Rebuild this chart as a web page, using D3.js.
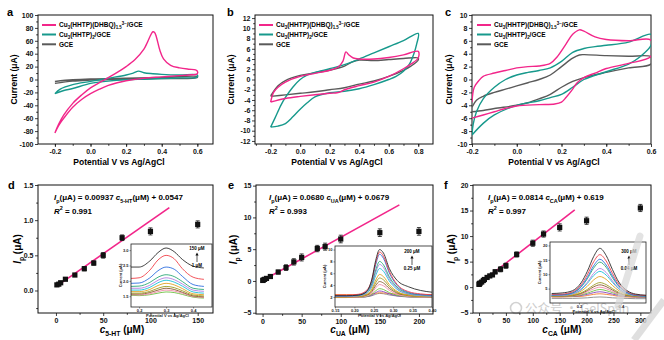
<!DOCTYPE html>
<html>
<head>
<meta charset="utf-8">
<script src="https://cdn.jsdelivr.net/npm/d3@7"></script>
<style>
  body { margin: 0; background: #fff; }
  svg { font-family: "Liberation Sans", Arial, sans-serif; font-weight: bold; }
</style>
</head>
<body>
<svg id="fig" width="664" height="340"></svg>
<script>
////////////////////////////////////////////////////////////
//////////////////////// Data //////////////////////////////
////////////////////////////////////////////////////////////

//CV loops, [potential V, current µA], forward scan then reverse
var cvA_dhbq = [[-0.2,-83],[-0.18,-70],[-0.15,-55],[-0.1,-37],[-0.05,-24],[0,-13],[0.05,-5],[0.1,3],[0.15,11],[0.2,20],[0.25,31],[0.3,47],[0.32,58],[0.34,70],[0.35,74],[0.36,73],[0.37,66],[0.39,45],[0.41,32],[0.45,22],[0.5,18],[0.55,16],[0.59,15],[0.6,13],[0.6,9],[0.55,7],[0.5,6],[0.4,4],[0.3,2],[0.2,-2],[0.15,-5],[0.1,-9],[0.05,-15],[0,-22],[-0.05,-31],[-0.1,-43],[-0.15,-60],[-0.18,-72],[-0.2,-83]];
var cvA_hhtp = [[-0.2,-22],[-0.17,-15],[-0.1,-8],[0,-3],[0.1,2],[0.2,7],[0.24,10],[0.27,13],[0.3,10.5],[0.35,9],[0.4,8],[0.5,7],[0.6,7],[0.6,4],[0.5,2.5],[0.4,1.5],[0.3,0.5],[0.2,-0.5],[0.1,-2.5],[0,-6],[-0.1,-14],[-0.15,-17],[-0.2,-22]];
var cvA_gce = [[-0.2,-3],[-0.1,-0.5],[0,0.8],[0.2,2],[0.4,3],[0.6,4.5],[0.6,3],[0.4,1.5],[0.2,0.5],[0,-1],[-0.1,-2.5],[-0.2,-6]];

var cvB_dhbq = [[-0.2,-4.4],[-0.18,-2.5],[-0.15,-1.5],[-0.1,-0.5],[0,0.6],[0.1,1.2],[0.2,1.8],[0.26,2.5],[0.29,3.6],[0.31,5.4],[0.33,4.8],[0.36,4.2],[0.4,4.0],[0.5,4.0],[0.6,4.3],[0.7,4.8],[0.8,5.5],[0.8,4.2],[0.75,3.0],[0.7,2.1],[0.6,0.6],[0.5,-0.5],[0.4,-1.2],[0.3,-2.0],[0.28,-2.3],[0.25,-2.6],[0.2,-2.7],[0,-3.3],[-0.1,-3.7],[-0.2,-4.4]];
var cvB_hhtp = [[-0.2,-9.3],[-0.17,-7.5],[-0.13,-5],[-0.1,-3.5],[-0.05,-1.5],[0,0],[0.05,0.9],[0.1,1.4],[0.2,2.1],[0.3,2.9],[0.4,4.0],[0.5,5.2],[0.6,6.4],[0.7,7.6],[0.8,9.0],[0.79,7],[0.77,5],[0.74,3],[0.7,1.6],[0.65,0.6],[0.6,0],[0.5,-1.0],[0.4,-1.8],[0.3,-2.3],[0.2,-2.6],[0.1,-3.4],[0.05,-4.5],[0,-5.8],[-0.05,-7.3],[-0.1,-8.6],[-0.15,-9.1],[-0.2,-9.3]];
var cvB_gce = [[-0.2,-3.2],[-0.15,-1.2],[-0.1,-0.2],[0,0.8],[0.1,1.3],[0.2,1.8],[0.3,2.6],[0.35,3.4],[0.4,3.8],[0.5,3.7],[0.6,3.9],[0.7,4.1],[0.8,4.2],[0.8,3.8],[0.75,2.6],[0.7,1.8],[0.6,0.6],[0.5,-0.3],[0.4,-0.9],[0.3,-1.6],[0.2,-2.0],[0.1,-2.4],[0,-2.7],[-0.1,-3.0],[-0.2,-3.3]];

var cvC_dhbq = [[-0.2,-3.5],[-0.19,-1.2],[-0.17,-0.2],[-0.15,0.5],[-0.1,1.0],[-0.05,1.4],[0,1.8],[0.05,2.0],[0.1,2.1],[0.15,2.5],[0.18,3.5],[0.22,5.5],[0.25,7.0],[0.28,7.7],[0.3,7.5],[0.35,6.6],[0.4,6.2],[0.5,6.0],[0.6,6.1],[0.6,3.6],[0.5,2.5],[0.4,1.7],[0.35,1.0],[0.3,0.3],[0.27,-0.5],[0.25,-1.5],[0.22,-2.8],[0.2,-3.5],[0.17,-3.8],[0.1,-3.9],[0,-4.1],[-0.05,-4.5],[-0.1,-5.0],[-0.15,-5.5],[-0.2,-6.0]];
var cvC_hhtp = [[-0.2,-8.6],[-0.195,-7],[-0.18,-5],[-0.15,-3],[-0.1,-1.2],[-0.05,0],[0,0.7],[0.05,1.1],[0.1,1.4],[0.15,1.8],[0.2,2.8],[0.25,4.2],[0.3,4.8],[0.35,5.1],[0.4,5.3],[0.5,5.8],[0.6,7.0],[0.6,5.3],[0.55,3.5],[0.5,2.4],[0.4,1.2],[0.3,0],[0.25,-1.2],[0.2,-2.3],[0.15,-2.8],[0.1,-3.3],[0,-4.0],[-0.1,-5.5],[-0.15,-6.8],[-0.2,-8.6]];
var cvC_gce = [[-0.2,-4.3],[-0.18,-3.2],[-0.15,-2.6],[-0.1,-2.0],[-0.05,-1.5],[0,-1.0],[0.05,-0.5],[0.1,0],[0.15,0.7],[0.2,2.0],[0.25,3.3],[0.28,3.8],[0.3,3.85],[0.4,3.7],[0.5,3.6],[0.6,3.5],[0.6,2.4],[0.5,1.8],[0.4,1.1],[0.3,0.3],[0.25,-0.3],[0.2,-1.2],[0.15,-2.3],[0.1,-3.0],[0.05,-3.6],[0,-4.0],[-0.1,-4.5],[-0.15,-4.8],[-0.2,-5.0]];

//Calibration points (µM, µA, error)
var conc5HT = [1, 3, 5, 10, 20, 30, 40, 50, 70, 100, 150];
var ip5HT   = [0.08, 0.09, 0.11, 0.16, 0.22, 0.31, 0.39, 0.50, 0.75, 0.84, 0.94];
var err5HT  = [0.02, 0.02, 0.02, 0.02, 0.02, 0.03, 0.03, 0.04, 0.04, 0.05, 0.05];

var concUA = [0.25, 1, 2.5, 5, 10, 20, 30, 40, 50, 70, 80, 100, 150, 200];
var ipUA   = [0.08, 0.15, 0.25, 0.4, 0.7, 1.4, 2.1, 3.0, 3.7, 5.1, 5.4, 6.6, 7.6, 7.8];
var errUA  = [0.2, 0.2, 0.2, 0.25, 0.3, 0.3, 0.45, 0.5, 0.55, 0.5, 0.55, 0.6, 0.6, 0.6];

var concCA = [0.04, 0.5, 1, 2, 5, 8, 10, 15, 20, 25, 30, 40, 50, 70, 100, 120, 150, 200, 300];
var ipCA   = [0.55, 0.6, 0.7, 0.8, 1.0, 1.3, 1.5, 1.9, 2.2, 2.4, 3.0, 3.5, 4.2, 6.4, 8.6, 10.4, 11.7, 13.0, 15.5];
var errCA  = [0.2, 0.2, 0.2, 0.2, 0.25, 0.25, 0.3, 0.3, 0.3, 0.3, 0.4, 0.5, 0.5, 0.5, 0.6, 0.6, 0.7, 0.7, 0.7];

//Linear fits as printed on the chart: slope, intercept, fitted range
var fit5HT = [0.00937, 0.0547, 0, 120];
var fitUA  = [0.0680, 0.0679, 0, 175];
var fitCA  = [0.0814, 0.619, 0, 178];

//DPV insets: shared potentials and one current array per concentration (high to low)
var dpvColors = ["#2b2b2b","#f0424a","#2f6fe0","#2aa876","#b07de0","#19c0d8","#e0a020","#9c9c22","#8a5a30","#f08aa8","#6cc040","#8844c0","#f07a30","#888888"];

var dpvD_V = [0.17, 0.2, 0.24, 0.27, 0.3, 0.33, 0.36, 0.4, 0.44];
var dpvD_I = [
  [2.45,2.45,2.65,2.92,3.07,2.95,2.70,2.48,2.42],
  [2.08,2.10,2.35,2.68,2.83,2.72,2.40,2.12,2.05],
  [1.92,1.93,2.10,2.33,2.45,2.38,2.15,1.88,1.82],
  [1.82,1.83,1.95,2.12,2.20,2.14,1.98,1.76,1.72],
  [1.76,1.76,1.86,2.02,2.10,2.04,1.90,1.70,1.66],
  [1.70,1.70,1.79,1.94,2.02,1.96,1.83,1.64,1.60],
  [1.65,1.65,1.72,1.85,1.92,1.87,1.75,1.58,1.55],
  [1.60,1.60,1.66,1.76,1.82,1.78,1.68,1.54,1.51],
  [1.57,1.57,1.62,1.70,1.76,1.72,1.63,1.51,1.48],
  [1.55,1.54,1.58,1.65,1.70,1.67,1.60,1.49,1.46],
  [1.53,1.52,1.55,1.60,1.64,1.62,1.56,1.47,1.44]
];

var dpvE_V = [0.15, 0.18, 0.21, 0.23, 0.245, 0.255, 0.265, 0.275, 0.29, 0.31, 0.34, 0.37, 0.4];
var dpvE_I = [
  [2.2,2.2,2.3,2.8,5.0,8.2,10.0,9.4,6.8,4.8,3.7,3.1,2.8],
  [2.3,2.3,2.45,3.03,4.86,7.78,9.6,8.87,6.32,4.13,2.88,2.52,2.37],
  [2.2,2.2,2.34,2.9,4.65,7.45,9.2,8.5,6.05,3.95,2.76,2.41,2.27],
  [2.2,2.2,2.32,2.78,4.23,6.55,8.0,7.42,5.39,3.65,2.66,2.37,2.26],
  [2.1,2.1,2.21,2.64,3.99,6.15,7.5,6.96,5.07,3.45,2.53,2.26,2.15],
  [2.1,2.1,2.19,2.57,3.75,5.63,6.8,6.33,4.69,3.28,2.48,2.24,2.15],
  [2.0,2.0,2.08,2.38,3.33,4.85,5.8,5.42,4.09,2.95,2.3,2.11,2.04],
  [2.0,2.0,2.06,2.32,3.12,4.4,5.2,4.88,3.76,2.8,2.26,2.1,2.03],
  [2.0,2.0,2.05,2.26,2.91,3.95,4.6,4.34,3.43,2.65,2.21,2.08,2.03],
  [1.9,1.9,1.94,2.12,2.67,3.55,4.1,3.88,3.11,2.45,2.08,1.97,1.92],
  [1.9,1.9,1.93,2.05,2.43,3.03,3.4,3.25,2.73,2.28,2.02,1.95,1.92],
  [1.9,1.9,1.92,2.01,2.29,2.73,3.0,2.89,2.51,2.18,1.99,1.93,1.91],
  [2.4,2.4,2.4,2.43,2.5,2.62,2.7,2.67,2.57,2.47,2.42,2.4,2.4],
  [2.0,2.0,2.01,2.06,2.21,2.45,2.6,2.54,2.33,2.15,2.05,2.02,2.01]
];

var dpvF_V = [0.07, 0.12, 0.17, 0.21, 0.24, 0.27, 0.3, 0.33, 0.36, 0.39, 0.43, 0.47, 0.52];
var dpvF_I = [
  [3.3,3.5,4.3,7.0,11.0,16.1,19.0,16.5,11.6,7.3,4.3,3.1,2.7],
  [3.0,3.1,3.9,6.3,9.8,14.3,16.8,14.6,10.3,6.6,4.0,2.9,2.6],
  [2.8,2.9,3.6,5.8,8.9,12.9,15.2,13.2,9.4,6.0,3.7,2.7,2.4],
  [2.8,2.9,3.5,5.5,8.4,12.1,14.2,12.4,8.8,5.8,3.6,2.7,2.4],
  [2.7,2.7,3.2,4.9,7.2,10.3,12.0,10.6,7.7,5.1,3.3,2.6,2.4],
  [2.6,2.7,3.2,4.6,6.8,9.5,11.0,9.7,7.2,4.9,3.2,2.6,2.4],
  [2.5,2.6,2.9,4.1,5.8,8.0,9.2,8.2,6.1,4.3,3.0,2.5,2.3],
  [2.4,2.4,2.7,3.5,4.7,6.2,7.1,6.4,5.0,3.7,2.7,2.4,2.2],
  [2.4,2.4,2.6,3.3,4.3,5.6,6.3,5.7,4.5,3.4,2.6,2.3,2.2],
  [2.3,2.3,2.5,3.0,3.9,4.9,5.5,5.0,4.0,3.1,2.5,2.2,2.1],
  [2.3,2.3,2.4,2.8,3.4,4.2,4.7,4.3,3.6,2.9,2.4,2.2,2.1],
  [2.2,2.2,2.3,2.6,3.0,3.6,3.9,3.6,3.1,2.6,2.3,2.1,2.0],
  [2.1,2.1,2.2,2.3,2.6,3.0,3.2,3.0,2.7,2.3,2.1,2.0,1.9],
  [1.6,1.6,1.6,1.7,1.8,2.0,2.1,2.0,1.8,1.7,1.6,1.5,1.5]
];

var PINK = "#f2268a", TEAL = "#17998c", GREY = "#5a5a5a";

////////////////////////////////////////////////////////////
/////////////////////// Helpers ////////////////////////////
////////////////////////////////////////////////////////////

var svg = d3.select("#fig");
svg.append("rect").attr("width", 664).attr("height", 340).attr("fill", "#fff");

//Watermark sitting behind the charts
svg.append("text")
  .attr("x", 525).attr("y", 313)
  .attr("font-family", "'Noto Sans CJK SC', sans-serif")
  .attr("font-weight", "normal")
  .attr("font-size", 12.5)
  .attr("fill", "#cdcdcd")
  .text("公众号 · GelSpan");
svg.append("circle").attr("cx", 516).attr("cy", 308).attr("r", 5.5)
  .attr("fill", "none").attr("stroke", "#d2d2d2").attr("stroke-width", 1.6);

//Text with sub/superscripts: parts are strings or [text, "sub"|"sup"|"i"|"i sub"]
function rich(textSel, parts, fs) {
  var off = 0;
  parts.forEach(function(p) {
    var t = typeof p === "string" ? p : p[0];
    var k = typeof p === "string" ? "" : p[1];
    var target = k.indexOf("sub") > -1 ? fs * 0.32 : (k.indexOf("sup") > -1 ? -fs * 0.42 : 0);
    var ts = textSel.append("tspan").attr("dy", target - off).text(t);
    off = target;
    if (target !== 0) ts.attr("font-size", fs * 0.68);
    if (k.indexOf("i") > -1) ts.attr("font-style", "italic");
  });
}

function panel(cfg) {
  var g = svg.append("g");
  var x = d3.scaleLinear().domain(cfg.xDom).range([cfg.x0, cfg.x1]);
  var y = d3.scaleLinear().domain(cfg.yDom).range([cfg.y1, cfg.y0]);

  var clipId = "clip-" + cfg.id;
  g.append("clipPath").attr("id", clipId).append("rect")
    .attr("x", cfg.x0).attr("y", cfg.y0)
    .attr("width", cfg.x1 - cfg.x0).attr("height", cfg.y1 - cfg.y0);

  //Minor ticks
  g.append("g").attr("transform", "translate(0," + cfg.y1 + ")")
    .call(d3.axisBottom(x).tickValues(cfg.xMinor).tickSize(1.8).tickFormat(""))
    .call(function(s) { s.select(".domain").remove(); });
  g.append("g").attr("transform", "translate(" + cfg.x0 + ",0)")
    .call(d3.axisLeft(y).tickValues(cfg.yMinor).tickSize(1.8).tickFormat(""))
    .call(function(s) { s.select(".domain").remove(); });

  //Major ticks + labels
  var xa = g.append("g").attr("transform", "translate(0," + cfg.y1 + ")")
    .call(d3.axisBottom(x).tickValues(cfg.xTicks).tickSize(3).tickPadding(2).tickFormat(cfg.xFmt));
  var ya = g.append("g").attr("transform", "translate(" + cfg.x0 + ",0)")
    .call(d3.axisLeft(y).tickValues(cfg.yTicks).tickSize(3).tickPadding(1.5).tickFormat(cfg.yFmt));
  [xa, ya].forEach(function(a) {
    a.select(".domain").remove();
    a.selectAll("text").attr("font-size", 7).attr("font-family", null).attr("fill", "#111");
    a.selectAll("line").attr("stroke", "#111");
  });
  g.selectAll("line").attr("stroke-width", 0.8);

  //Frame
  g.append("rect")
    .attr("x", cfg.x0).attr("y", cfg.y0)
    .attr("width", cfg.x1 - cfg.x0).attr("height", cfg.y1 - cfg.y0)
    .attr("fill", "none").attr("stroke", "#111").attr("stroke-width", 1);

  //Panel letter
  g.append("text").attr("x", cfg.lx).attr("y", cfg.ly)
    .attr("font-size", 11).attr("font-weight", "bold").text(cfg.id);

  var plot = g.append("g").attr("clip-path", "url(#" + clipId + ")");
  return { g: g, plot: plot, x: x, y: y, cfg: cfg };
}

////////////////////////////////////////////////////////////
///////////////////// CV panels ////////////////////////////
////////////////////////////////////////////////////////////

var vFmt = function(d) { return d === 0 ? "0.0" : d3.format(".1f")(d).replace("−", "-"); };
var iFmt = function(d) { return String(d); };

function cvPanel(cfg, loops) {
  var p = panel(cfg);
  var line = d3.line()
    .x(function(d) { return p.x(d[0]); })
    .y(function(d) { return p.y(d[1]); })
    .curve(d3.curveCatmullRom.alpha(0.5));

  //GCE first, the DHBQ composite on top
  [[loops[2], GREY], [loops[1], TEAL], [loops[0], PINK]].forEach(function(l) {
    p.plot.append("path").attr("d", line(l[0]))
      .attr("fill", "none").attr("stroke", l[1]).attr("stroke-width", 1.4)
      .attr("stroke-linejoin", "round");
  });

  //Legend
  var labels = [
    ["Cu", ["3","sub"], "(HHTP)(DHBQ)", ["1.5","sub"], ["3−","sup"], "/GCE"],
    ["Cu", ["3","sub"], "(HHTP)", ["2","sub"], "/GCE"],
    ["GCE"]
  ];
  var cols = [PINK, TEAL, GREY];
  var lg = p.g.append("g").attr("transform", "translate(" + (cfg.x0 + cfg.legDx) + ",0)");
  [25, 34.5, 44.3].forEach(function(ly, i) {
    lg.append("line").attr("x1", 0).attr("x2", 14).attr("y1", ly).attr("y2", ly)
      .attr("stroke", cols[i]).attr("stroke-width", 2);
    var t = lg.append("text").attr("x", 17).attr("y", ly + 2.3).attr("font-size", 6.5);
    rich(t, labels[i], 6.5);
  });

  //Axis titles
  p.g.append("text").attr("x", cfg.xtx).attr("y", 165)
    .attr("text-anchor", "middle").attr("font-size", 8.5)
    .text("Potential V vs Ag/AgCl");
  p.g.append("text")
    .attr("transform", "translate(" + cfg.ytx + "," + ((cfg.y0 + cfg.y1) / 2) + ")rotate(-90)")
    .attr("text-anchor", "middle").attr("font-size", 8.5)
    .text("Current (μA)");
  return p;
}

cvPanel({ id: "a", x0: 38, x1: 213, y0: 15, y1: 144, lx: 7, ly: 16,
  xDom: [-0.295, 0.688], yDom: [-100, 100],
  xTicks: [-0.2, 0, 0.2, 0.4, 0.6], xMinor: d3.range(-0.2, 0.65, 0.1),
  yTicks: d3.range(-100, 101, 20), yMinor: d3.range(-90, 100, 20),
  xFmt: vFmt, yFmt: iFmt, legDx: 4, xtx: 119, ytx: 17 },
  [cvA_dhbq, cvA_hhtp, cvA_gce]);

cvPanel({ id: "b", x0: 255, x1: 433, y0: 15, y1: 144, lx: 227, ly: 16,
  xDom: [-0.306, 0.9], yDom: [-12.6, 12.6],
  xTicks: [-0.2, 0, 0.2, 0.4, 0.6, 0.8], xMinor: d3.range(-0.3, 0.9, 0.1),
  yTicks: d3.range(-12, 13, 2), yMinor: d3.range(-11, 12, 2),
  xFmt: vFmt, yFmt: iFmt, legDx: 4, xtx: 337, ytx: 234 },
  [cvB_dhbq, cvB_hhtp, cvB_gce]);

cvPanel({ id: "c", x0: 472, x1: 651, y0: 15, y1: 144, lx: 445, ly: 16,
  xDom: [-0.2, 0.6], yDom: [-10, 10],
  xTicks: [-0.2, 0, 0.2, 0.4, 0.6], xMinor: d3.range(-0.1, 0.6, 0.1),
  yTicks: d3.range(-10, 11, 2), yMinor: d3.range(-9, 10, 2),
  xFmt: vFmt, yFmt: iFmt, legDx: 5, xtx: 554, ytx: 452 },
  [cvC_dhbq, cvC_hhtp, cvC_gce]);

////////////////////////////////////////////////////////////
///////////////// Calibration panels ///////////////////////
////////////////////////////////////////////////////////////

function calPanel(cfg, conc, ip, err, fit, analyte, equation, r2) {
  var p = panel(cfg);

  //Fitted line
  p.plot.append("line")
    .attr("x1", p.x(fit[2])).attr("y1", p.y(fit[0] * fit[2] + fit[1]))
    .attr("x2", p.x(fit[3])).attr("y2", p.y(fit[0] * fit[3] + fit[1]))
    .attr("stroke", PINK).attr("stroke-width", 1.6);

  var pts = conc.map(function(c, i) { return { c: c, v: ip[i], e: err[i] }; });

  //Error bars
  var eb = p.plot.selectAll(".eb").data(pts).enter().append("g").attr("class", "eb")
    .attr("stroke", "#111").attr("stroke-width", 0.8);
  eb.append("line")
    .attr("x1", function(d) { return p.x(d.c); }).attr("x2", function(d) { return p.x(d.c); })
    .attr("y1", function(d) { return p.y(d.v - d.e); }).attr("y2", function(d) { return p.y(d.v + d.e); });
  [-1, 1].forEach(function(s) {
    eb.append("line")
      .attr("x1", function(d) { return p.x(d.c) - 2; }).attr("x2", function(d) { return p.x(d.c) + 2; })
      .attr("y1", function(d) { return p.y(d.v + s * d.e); }).attr("y2", function(d) { return p.y(d.v + s * d.e); });
  });

  //Square markers
  p.plot.selectAll(".pt").data(pts).enter().append("rect").attr("class", "pt")
    .attr("x", function(d) { return p.x(d.c) - 2.6; })
    .attr("y", function(d) { return p.y(d.v) - 2.6; })
    .attr("width", 5.2).attr("height", 5.2).attr("fill", "#111");

  //Equation
  var eq = p.g.append("text").attr("x", cfg.x0 + cfg.eqDx).attr("y", 200).attr("font-size", 8);
  rich(eq, [["I", "i"], ["p", "sub"], "(μA) = " + equation[0] + " ", ["c", "i"], [analyte, "sub"], "(μM) + " + equation[1]], 8);
  var r = p.g.append("text").attr("x", cfg.x0 + cfg.eqDx).attr("y", 213.5).attr("font-size", 8);
  rich(r, [["R", "i"], ["2", "sup"], " = " + r2], 8);

  //Axis titles
  var xt = p.g.append("text").attr("x", cfg.xtx).attr("y", 333)
    .attr("text-anchor", "middle").attr("font-size", 10);
  rich(xt, [["c", "i"], [analyte, "sub"], " (μM)"], 10);
  var yt = p.g.append("text")
    .attr("transform", "translate(" + cfg.ytx + "," + ((cfg.y0 + cfg.y1) / 2) + ")rotate(-90)")
    .attr("text-anchor", "middle").attr("font-size", 10);
  rich(yt, [["I", "i"], ["p", "sub"], " (μA)"], 10);
  return p;
}

function inset(cfg, V, I, annot) {
  var g = svg.append("g");
  var x = d3.scaleLinear().domain(cfg.xDom).range([cfg.x0, cfg.x1]);
  var y = d3.scaleLinear().domain(cfg.yDom).range([cfg.y1, cfg.y0]);
  g.append("rect").attr("x", cfg.x0).attr("y", cfg.y0)
    .attr("width", cfg.x1 - cfg.x0).attr("height", cfg.y1 - cfg.y0).attr("fill", "#fff");

  var clipId = "clip-in-" + cfg.id;
  g.append("clipPath").attr("id", clipId).append("rect")
    .attr("x", cfg.x0).attr("y", cfg.y0)
    .attr("width", cfg.x1 - cfg.x0).attr("height", cfg.y1 - cfg.y0);

  var line = d3.line()
    .x(function(d, i) { return x(V[i]); })
    .y(function(d) { return y(d); })
    .curve(d3.curveMonotoneX);
  var lines = g.append("g").attr("clip-path", "url(#" + clipId + ")");
  I.slice().reverse().forEach(function(arr, j) {
    var k = I.length - 1 - j;
    lines.append("path").attr("d", line(arr))
      .attr("fill", "none").attr("stroke", dpvColors[k]).attr("stroke-width", 0.9);
  });

  var xa = g.append("g").attr("transform", "translate(0," + cfg.y1 + ")")
    .call(d3.axisBottom(x).tickValues(cfg.xTicks).tickSize(1.5).tickPadding(1).tickFormat(d3.format(cfg.xFmt)));
  var ya = g.append("g").attr("transform", "translate(" + cfg.x0 + ",0)")
    .call(d3.axisLeft(y).tickValues(cfg.yTicks).tickSize(1.5).tickPadding(1).tickFormat(d3.format(cfg.yFmt)));
  [xa, ya].forEach(function(a) {
    a.select(".domain").remove();
    a.selectAll("text").attr("font-size", 4).attr("font-family", null).attr("fill", "#222");
    a.selectAll("line").attr("stroke", "#222").attr("stroke-width", 0.5);
  });
  g.append("rect").attr("x", cfg.x0).attr("y", cfg.y0)
    .attr("width", cfg.x1 - cfg.x0).attr("height", cfg.y1 - cfg.y0)
    .attr("fill", "none").attr("stroke", "#222").attr("stroke-width", 0.8);

  g.append("text").attr("x", (cfg.x0 + cfg.x1) / 2 - 4).attr("y", cfg.y1 + 9.5)
    .attr("text-anchor", "middle").attr("font-size", 4).attr("fill", "#222")
    .text("Potential V vs Ag/AgCl");
  g.append("text")
    .attr("transform", "translate(" + (cfg.x0 - 9) + "," + ((cfg.y0 + cfg.y1) / 2) + ")rotate(-90)")
    .attr("text-anchor", "middle").attr("font-size", 4).attr("fill", "#222")
    .text("Current (μA)");

  //Concentration arrow
  var ax = cfg.ax;
  g.append("text").attr("x", ax).attr("y", cfg.ay).attr("text-anchor", "middle")
    .attr("font-size", 4.5).text(annot[0]);
  g.append("line").attr("x1", ax).attr("x2", ax).attr("y1", cfg.ay + 12).attr("y2", cfg.ay + 4)
    .attr("stroke", "#111").attr("stroke-width", 0.7);
  g.append("path").attr("d", "M" + (ax - 1.6) + "," + (cfg.ay + 5.5) + "L" + ax + "," + (cfg.ay + 2.5) + "L" + (ax + 1.6) + "," + (cfg.ay + 5.5) + "Z")
    .attr("fill", "#111");
  g.append("text").attr("x", ax).attr("y", cfg.ay + 17).attr("text-anchor", "middle")
    .attr("font-size", 4.5).text(annot[1]);
}

calPanel({ id: "d", x0: 38, x1: 213, y0: 185, y1: 313, lx: 8, ly: 189,
  xDom: [-19, 166.2], yDom: [-0.32, 1.5],
  xTicks: [0, 50, 100, 150], xMinor: d3.range(25, 166, 50),
  yTicks: [0, 0.5, 1.0, 1.5], yMinor: [-0.25, 0.25, 0.75, 1.25],
  xFmt: d3.format("d"), yFmt: d3.format(".1f"), eqDx: 16, xtx: 122, ytx: 21 },
  conc5HT, ip5HT, err5HT, fit5HT, "5-HT", ["0.00937", "0.0547"], "0.991");
inset({ id: "d", x0: 131, x1: 212, y0: 244, y1: 307, xDom: [0.17, 0.47], yDom: [1.15, 3.2],
  xTicks: [0.2, 0.3, 0.4], yTicks: [1.5, 2.0, 2.5, 3.0], xFmt: ".1f", yFmt: ".1f", ax: 197, ay: 250 },
  dpvD_V, dpvD_I, ["150 μM", "1 μM"]);

calPanel({ id: "e", x0: 256, x1: 433, y0: 185, y1: 314, lx: 228, ly: 189,
  xDom: [-8.4, 218], yDom: [-5.2, 15.1],
  xTicks: [0, 50, 100, 150, 200], xMinor: d3.range(25, 218, 50),
  yTicks: [-5, 0, 5, 10, 15], yMinor: [-2.5, 2.5, 7.5, 12.5],
  xFmt: d3.format("d"), yFmt: d3.format("d"), eqDx: 13, xtx: 350, ytx: 237 },
  concUA, ipUA, errUA, fitUA, "UA", ["0.0680", "0.0679"], "0.993");
inset({ id: "e", x0: 335, x1: 432, y0: 246, y1: 307, xDom: [0.15, 0.4], yDom: [0.3, 10.6],
  xTicks: [0.15, 0.2, 0.25, 0.3, 0.35, 0.4], yTicks: [2, 4, 6, 8, 10], xFmt: ".2f", yFmt: "d", ax: 412, ay: 253 },
  dpvE_V, dpvE_I, ["200 μM", "0.25 μM"]);

calPanel({ id: "f", x0: 473, x1: 651, y0: 185, y1: 313, lx: 444, ly: 189,
  xDom: [-11.2, 319.8], yDom: [-5.06, 20],
  xTicks: [0, 50, 100, 150, 200, 250, 300], xMinor: d3.range(25, 319, 50),
  yTicks: [-5, 0, 5, 10, 15, 20], yMinor: [-2.5, 2.5, 7.5, 12.5, 17.5],
  xFmt: d3.format("d"), yFmt: d3.format("d"), eqDx: 15, xtx: 562, ytx: 455 },
  concCA, ipCA, errCA, fitCA, "CA", ["0.0814", "0.619"], "0.997");
inset({ id: "f", x0: 550, x1: 646, y0: 242, y1: 303, xDom: [0.062, 0.52], yDom: [0, 21.2],
  xTicks: [0.2, 0.4], yTicks: [5, 10, 15, 20], xFmt: ".1f", yFmt: "d", ax: 629, ay: 253 },
  dpvF_V, dpvF_I, ["300 μM", "0.04 μM"]);

//Light diagonal watermark strokes drawn over the figure
svg.append("path").attr("d", "M640,236 L618,306")
  .attr("stroke", "#d8d8d8").attr("stroke-width", 7).attr("stroke-linecap", "round").attr("opacity", 0.7);
svg.append("path").attr("d", "M634,340 L664,300")
  .attr("stroke", "#d8d8d8").attr("stroke-width", 7).attr("opacity", 0.8);
</script>
</body>
</html>
